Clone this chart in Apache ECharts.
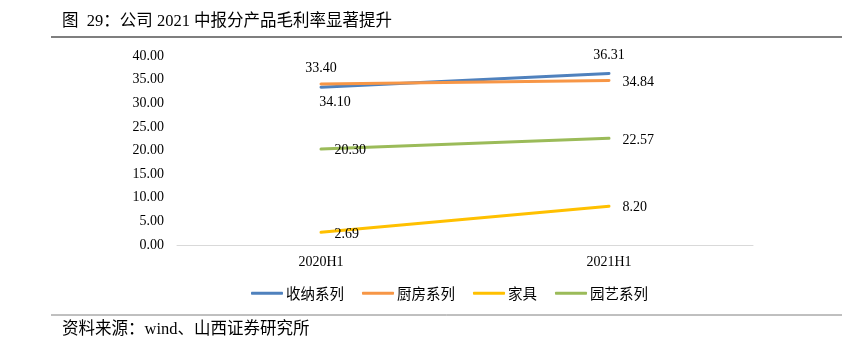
<!DOCTYPE html>
<html><head><meta charset="utf-8">
<script src="https://cdn.jsdelivr.net/npm/echarts@6/dist/echarts.min.js"></script>
<style>html,body{margin:0;padding:0;background:#fff}#c{width:863px;height:341px}</style>
</head><body><div id="c"></div>
<script>
const categories = ['2020H1', '2021H1'];
const seriesNames = ['收纳系列', '厨房系列', '家具', '园艺系列'];
const storage = [33.40, 36.31];
const kitchen = [34.10, 34.84];
const furniture = [2.69, 8.20];
const garden = [20.30, 22.57];
const yTicks = [0, 5, 10, 15, 20, 25, 30, 35, 40];

const colors = ['#4F81BD', '#F79646', '#FFC000', '#9BBB59'];
const serif = '"Liberation Serif", "Times New Roman", serif';
const cjk = '"Noto Sans CJK SC", sans-serif';
const mixed = '"Liberation Serif", "Noto Sans CJK SC", serif';
const lblBase = {show: true, color: '#000', fontFamily: serif, fontSize: 14, formatter: p => Number(p.value).toFixed(2)};

function mk(vals, labels) {
  return vals.map((v, i) => ({value: v, label: Object.assign({}, lblBase, labels[i])}));
}
function ser(i, vals, labels, z) {
  return {name: seriesNames[i], type: 'line', symbol: 'circle', symbolSize: 1, showSymbol: true, z: z,
    color: colors[i], itemStyle: {color: colors[i]},
    lineStyle: {width: 3, color: colors[i], cap: 'round'},
    label: lblBase,
    data: mk(vals, labels)};
}

const chart = echarts.init(document.getElementById('c'));
chart.setOption({
  animation: false,
  backgroundColor: '#fff',
  grid: {left: 177, right: 110, top: 56, bottom: 96},
  legend: {
    left: 246, top: 281, itemWidth: 32, itemHeight: 3, itemGap: 18, icon: 'roundRect',
    textStyle: {fontFamily: cjk, fontSize: 14.5, color: '#000', padding: [0, 0, 0, -2]},
    data: seriesNames
  },
  xAxis: {
    type: 'category', data: categories, boundaryGap: true,
    axisLine: {lineStyle: {color: '#D9D9D9', width: 1}},
    axisTick: {show: false},
    axisLabel: {color: '#000', fontFamily: serif, fontSize: 14, margin: 10}
  },
  yAxis: {
    type: 'value', min: yTicks[0], max: yTicks[yTicks.length - 1], interval: 5,
    axisLine: {show: false}, axisTick: {show: false}, splitLine: {show: false},
    axisLabel: {color: '#000', fontFamily: serif, fontSize: 14, margin: 13, formatter: v => v.toFixed(2)}
  },
  series: [
    ser(0, storage, [{position: 'top', distance: 11}, {position: 'top', distance: 11}], 3),
    ser(1, kitchen, [{position: 'bottom', distance: 11, offset: [14, 0]}, {position: 'right', distance: 13, offset: [0, 2]}], 4),
    ser(2, furniture, [{position: 'right', distance: 13, offset: [0, 2]}, {position: 'right', distance: 13, offset: [0, 1]}], 2),
    ser(3, garden, [{position: 'right', distance: 13, offset: [0, 1]}, {position: 'right', distance: 13, offset: [0, 2]}], 2)
  ],
  graphic: [
    {type: 'text', left: 62, top: 13, style: {text: '图  29：公司 2021 中报分产品毛利率显著提升', fontFamily: mixed, fontSize: 16.5, fill: '#000'}},
    {type: 'line', shape: {x1: 51, y1: 37, x2: 842, y2: 37}, style: {stroke: '#000', lineWidth: 1.2}},
    {type: 'line', shape: {x1: 51, y1: 315, x2: 842, y2: 315}, style: {stroke: '#808080', lineWidth: 1}},
    {type: 'text', left: 62, top: 321, style: {text: '资料来源：wind、山西证券研究所', fontFamily: mixed, fontSize: 16.5, fill: '#000'}}
  ]
});
</script></body></html>
